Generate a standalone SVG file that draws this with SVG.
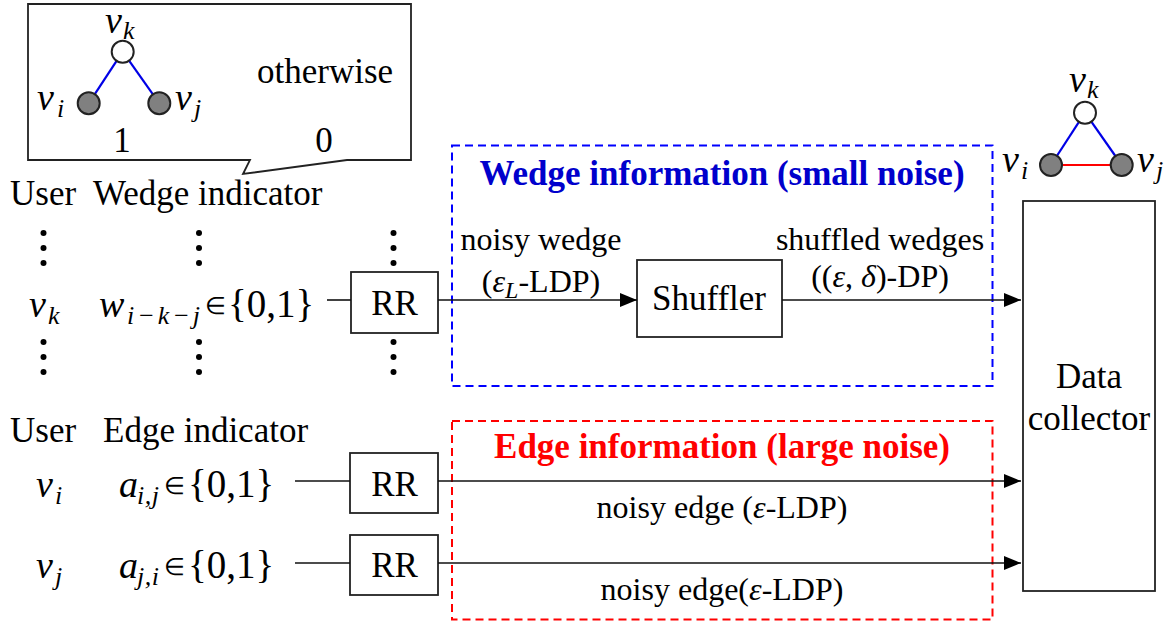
<svg xmlns="http://www.w3.org/2000/svg" width="1175" height="624" viewBox="0 0 1175 624" font-family="'Liberation Serif', 'Times New Roman', serif">
<defs>
<style>
text{font-family:"Liberation Serif","Times New Roman",serif;fill:#000}
.lbl{font-size:35px}
.sm{font-size:32px}
.it{font-style:italic}
.mv{font-size:38px;font-style:italic}
.ms{font-size:26px;font-style:italic}
.sub{font-size:24px;font-style:italic}
.el{font-size:24px}
.set{font-size:39px}
.title{font-size:35px;font-weight:bold}
.box{fill:#fff;stroke:#222;stroke-width:1.8}
.conn{stroke:#111;stroke-width:1.6;fill:none}
.dot{fill:#000}
.gnode{fill:#808080;stroke:#222;stroke-width:2}
.wnode{fill:#fff;stroke:#222;stroke-width:2}
.bl{stroke:#0000e6;stroke-width:2.2}
.rl{stroke:#ff0000;stroke-width:2.2}
</style>
<marker id="arr" markerUnits="userSpaceOnUse" markerWidth="17" markerHeight="14" refX="17" refY="7" orient="auto">
<path d="M0,0 L17,7 L0,14 Z" fill="#000"/>
</marker>
</defs>
<rect width="1175" height="624" fill="#fff"/>

<g id="callout">
<path d="M28,4 H411 V160 H347 L243,174 L250,160 H28 Z" fill="#fff" stroke="#222" stroke-width="1.8"/>
<line x1="122.7" y1="51.7" x2="88.7" y2="103.3" class="bl"/>
<line x1="122.7" y1="51.7" x2="159.3" y2="103.3" class="bl"/>
<circle cx="122.7" cy="51.7" r="11" class="wnode"/>
<circle cx="88.7" cy="103.3" r="11" class="gnode"/>
<circle cx="159.3" cy="103.3" r="11" class="gnode"/>
<text x="105" y="33" class="mv">v</text><text x="123" y="39" class="ms">k</text>
<text x="37" y="110" class="mv">v</text><text x="57" y="117" class="ms">i</text>
<text x="175" y="110" class="mv">v</text><text x="194" y="117" class="ms">j</text>
<text x="257" y="83" class="lbl">otherwise</text>
<text x="122" y="152" class="lbl" text-anchor="middle">1</text>
<text x="324" y="152" class="lbl" text-anchor="middle">0</text>
</g>

<g id="wedge-labels">
<text x="10" y="205" class="lbl">User</text>
<text x="93" y="205" class="lbl">Wedge indicator</text>
<circle cx="43.5" cy="233" r="3" class="dot"/><circle cx="43.5" cy="248" r="3" class="dot"/><circle cx="43.5" cy="263" r="3" class="dot"/>
<circle cx="199" cy="233" r="3" class="dot"/><circle cx="199" cy="248" r="3" class="dot"/><circle cx="199" cy="263" r="3" class="dot"/>
<circle cx="393.5" cy="233" r="3" class="dot"/><circle cx="393.5" cy="248" r="3" class="dot"/><circle cx="393.5" cy="263" r="3" class="dot"/>
<circle cx="43.5" cy="342" r="3" class="dot"/><circle cx="43.5" cy="357" r="3" class="dot"/><circle cx="43.5" cy="372" r="3" class="dot"/>
<circle cx="199" cy="342" r="3" class="dot"/><circle cx="199" cy="357" r="3" class="dot"/><circle cx="199" cy="372" r="3" class="dot"/>
<circle cx="393.5" cy="342" r="3" class="dot"/><circle cx="393.5" cy="357" r="3" class="dot"/><circle cx="393.5" cy="372" r="3" class="dot"/>
<text x="29" y="317" class="mv">v</text><text x="48" y="324" class="ms">k</text>
<text x="99" y="317" class="mv">w</text><text x="127" y="324" class="ms" textLength="73" lengthAdjust="spacing">i−k−j</text>
<text x="205" y="314" class="el">∈</text><text x="228" y="317" class="set">{0,1}</text>
</g>

<g id="edge-labels">
<text x="10" y="442" class="lbl">User</text>
<text x="103" y="442" class="lbl">Edge indicator</text>
<text x="36" y="497" class="mv">v</text><text x="55" y="504" class="ms">i</text>
<text x="119" y="497" class="mv">a</text><text x="137" y="504" class="ms" textLength="22" lengthAdjust="spacing">i,j</text>
<text x="164" y="494" class="el">∈</text><text x="188" y="497" class="set">{0,1}</text>
<text x="36" y="578" class="mv">v</text><text x="55" y="585" class="ms">j</text>
<text x="119" y="578" class="mv">a</text><text x="137" y="585" class="ms" textLength="22" lengthAdjust="spacing">j,i</text>
<text x="164" y="575" class="el">∈</text><text x="188" y="578" class="set">{0,1}</text>
</g>

<g id="rr-wedge">
<rect x="351" y="272" width="87" height="61" class="box"/>
<text x="394.5" y="315" class="lbl" text-anchor="middle">RR</text>
</g>
<g id="rr-edge-i">
<rect x="350" y="453" width="88" height="60" class="box"/>
<text x="394.5" y="496" class="lbl" text-anchor="middle">RR</text>
</g>
<g id="rr-edge-j">
<rect x="350" y="535" width="88" height="60" class="box"/>
<text x="394.5" y="577" class="lbl" text-anchor="middle">RR</text>
</g>

<g id="wedge-region">
<rect x="452" y="145.5" width="540.5" height="240.5" fill="none" stroke="#0000ff" stroke-width="2" stroke-dasharray="8,5"/>
<text x="722" y="185" class="title" text-anchor="middle" style="fill:#0000cc">Wedge information (small noise)</text>
</g>
<g id="edge-region">
<rect x="452" y="421" width="540.5" height="198.5" fill="none" stroke="#ff0000" stroke-width="2" stroke-dasharray="8,5"/>
<text x="722" y="458" class="title" text-anchor="middle" style="fill:#ff0000">Edge information (large noise)</text>
</g>

<g id="shuffler">
<rect x="637" y="260" width="145" height="77" class="box"/>
<text x="709" y="310" class="lbl" text-anchor="middle">Shuffler</text>
</g>

<g id="data-collector">
<rect x="1023" y="201" width="132" height="390" class="box"/>
<text x="1089" y="388" class="lbl" text-anchor="middle">Data</text>
<text x="1089" y="430" class="lbl" text-anchor="middle">collector</text>
</g>

<g id="triangle">
<line x1="1085" y1="112.7" x2="1051" y2="165" class="bl"/>
<line x1="1085" y1="112.7" x2="1121.7" y2="165" class="bl"/>
<line x1="1051" y1="165" x2="1121.7" y2="165" class="rl"/>
<circle cx="1085" cy="112.7" r="11" class="wnode"/>
<circle cx="1051" cy="165" r="11" class="gnode"/>
<circle cx="1121.7" cy="165" r="11" class="gnode"/>
<text x="1069" y="92" class="mv">v</text><text x="1087" y="98" class="ms">k</text>
<text x="1002" y="172" class="mv">v</text><text x="1021" y="179" class="ms">i</text>
<text x="1137" y="172" class="mv">v</text><text x="1156" y="179" class="ms">j</text>
</g>

<g id="connectors">
<line x1="327" y1="300" x2="351" y2="300" class="conn"/>
<line x1="438" y1="300" x2="637" y2="300" class="conn" marker-end="url(#arr)"/>
<line x1="782" y1="300" x2="1021" y2="300" class="conn" marker-end="url(#arr)"/>
<line x1="295" y1="481" x2="350" y2="481" class="conn"/>
<line x1="438" y1="481" x2="1021" y2="481" class="conn" marker-end="url(#arr)"/>
<line x1="295" y1="563" x2="350" y2="563" class="conn"/>
<line x1="438" y1="563" x2="1021" y2="563" class="conn" marker-end="url(#arr)"/>
</g>

<g id="connector-labels">
<text x="541" y="250" class="sm" text-anchor="middle">noisy wedge</text>
<text x="541" y="292" class="sm" text-anchor="middle">(<tspan class="it">ε</tspan><tspan class="sub" font-size="22" dy="6">L</tspan><tspan dy="-6">-LDP)</tspan></text>
<text x="880" y="250" class="sm" text-anchor="middle">shuffled wedges</text>
<text x="880" y="287" class="sm" text-anchor="middle">((<tspan class="it">ε</tspan>, <tspan class="it">δ</tspan>)-DP)</text>
<text x="722" y="518" class="sm" text-anchor="middle">noisy edge (<tspan class="it">ε</tspan>-LDP)</text>
<text x="722" y="600" class="sm" text-anchor="middle">noisy edge(<tspan class="it">ε</tspan>-LDP)</text>
</g>
</svg>
